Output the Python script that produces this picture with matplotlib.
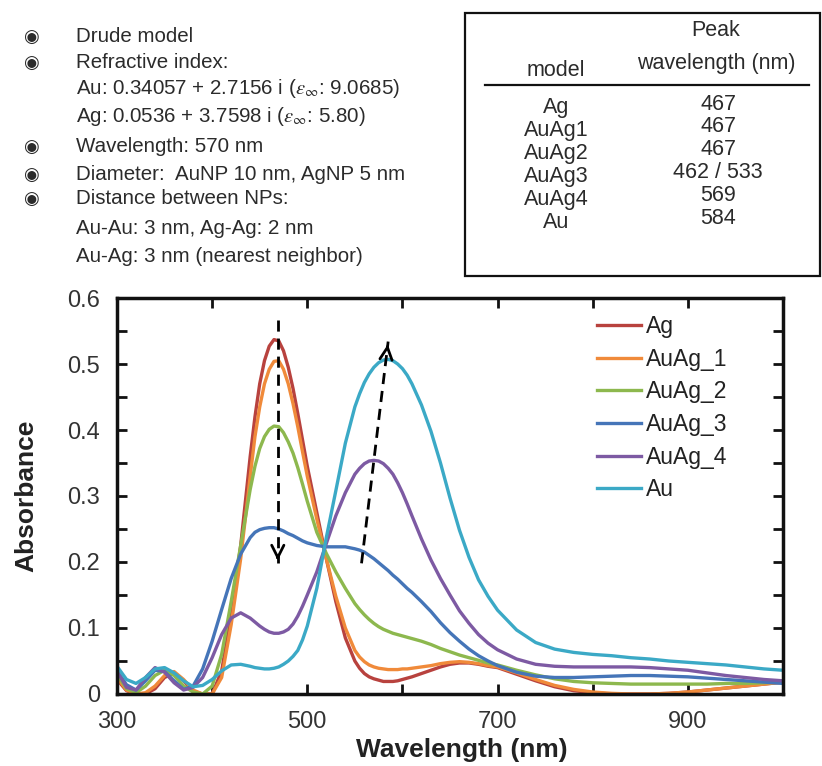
import matplotlib
matplotlib.use("Agg")
from matplotlib import pyplot as plt
from matplotlib.patches import Rectangle
from matplotlib.lines import Line2D
from matplotlib.ticker import MultipleLocator

plt.rcParams['font.family'] = ['Liberation Sans', 'DejaVu Sans']
plt.rcParams['mathtext.fontset'] = 'stix'

# wavelength grid (nm), finer around the peaks
wl = (list(range(300, 441, 10)) + list(range(445, 501, 5)) + list(range(510, 551, 10))
      + list(range(555, 611, 5)) + list(range(620, 701, 10)) + list(range(720, 1001, 20)))

ag = [0.022, 0.005, 0.0, 0.0, 0.008, 0.025, 0.032, 0.02, 0.004, 0.0, 0.0, 0.035, 0.12, 0.225, 0.36,
      0.42, 0.47, 0.505, 0.527, 0.537, 0.535, 0.52, 0.495, 0.463, 0.425, 0.385, 0.345,
      0.275, 0.205, 0.14, 0.085, 0.05,
      0.039, 0.031, 0.026, 0.023, 0.021, 0.019, 0.019, 0.019, 0.02, 0.022, 0.024, 0.026,
      0.031, 0.036, 0.041, 0.045, 0.047, 0.047, 0.045, 0.042, 0.04,
      0.03, 0.02, 0.011, 0.005, 0.002, 0.0, 0.0, 0.0, 0.001, 0.003, 0.006, 0.009, 0.012, 0.015, 0.018]
auag1 = [0.025, 0.006, 0.0, 0.002, 0.012, 0.028, 0.034, 0.022, 0.006, 0.0, 0.0, 0.025, 0.105, 0.205, 0.33,
         0.39, 0.435, 0.47, 0.492, 0.504, 0.505, 0.492, 0.47, 0.44, 0.405, 0.367, 0.33,
         0.265, 0.205, 0.148, 0.1, 0.066,
         0.056, 0.049, 0.044, 0.041, 0.039, 0.038, 0.037, 0.037, 0.037, 0.038, 0.038, 0.039,
         0.041, 0.043, 0.046, 0.048, 0.049, 0.048, 0.046, 0.043, 0.041,
         0.032, 0.022, 0.013, 0.007, 0.003, 0.001, 0.0, 0.0, 0.001, 0.003, 0.006, 0.009, 0.012, 0.015, 0.018]
auag2 = [0.03, 0.008, 0.002, 0.012, 0.028, 0.036, 0.028, 0.012, 0.003, 0.0, 0.012, 0.06, 0.14, 0.225, 0.31,
         0.345, 0.372, 0.39, 0.401, 0.406, 0.405, 0.396, 0.382, 0.365, 0.343, 0.318, 0.292,
         0.245, 0.213, 0.185, 0.16, 0.137,
         0.128, 0.12, 0.113, 0.107, 0.102, 0.098, 0.095, 0.092, 0.09, 0.088, 0.086, 0.084,
         0.08, 0.075, 0.069, 0.064, 0.059, 0.055, 0.051, 0.047, 0.044,
         0.036, 0.029, 0.023, 0.019, 0.017, 0.016, 0.015, 0.015, 0.015, 0.015, 0.015, 0.016, 0.016, 0.017, 0.018]
auag3 = [0.035, 0.014, 0.006, 0.02, 0.036, 0.034, 0.02, 0.007, 0.012, 0.038, 0.08, 0.128, 0.175, 0.212, 0.237,
         0.245, 0.249, 0.251, 0.252, 0.252, 0.25, 0.247, 0.243, 0.24, 0.236, 0.232, 0.229,
         0.225, 0.223, 0.223, 0.223, 0.22,
         0.218, 0.215, 0.21, 0.205, 0.199, 0.193, 0.187, 0.18, 0.174, 0.167, 0.16, 0.154,
         0.14, 0.125, 0.108, 0.093, 0.08, 0.068, 0.058, 0.05, 0.043,
         0.033, 0.027, 0.025, 0.025, 0.026, 0.027, 0.028, 0.028, 0.027, 0.026, 0.024, 0.022, 0.02, 0.018, 0.016]
auag4 = [0.035, 0.01, 0.006, 0.025, 0.04, 0.033, 0.017, 0.006, 0.01, 0.025, 0.055, 0.09, 0.115, 0.123, 0.115,
         0.109, 0.103, 0.098, 0.094, 0.092, 0.092, 0.094, 0.098, 0.106, 0.118, 0.133, 0.15,
         0.185, 0.228, 0.27, 0.305, 0.333,
         0.342, 0.349, 0.353, 0.354, 0.353, 0.349, 0.342, 0.333, 0.32, 0.305, 0.288, 0.27,
         0.235, 0.203, 0.175, 0.15, 0.126, 0.107, 0.09, 0.077, 0.067,
         0.053, 0.045, 0.042, 0.041, 0.041, 0.041, 0.041, 0.04, 0.038, 0.036, 0.032, 0.028, 0.025, 0.022, 0.02]
au = [0.042, 0.022, 0.016, 0.025, 0.038, 0.04, 0.032, 0.02, 0.011, 0.013, 0.022, 0.035, 0.044, 0.045, 0.042,
      0.04, 0.039, 0.038, 0.038, 0.039, 0.041, 0.045, 0.05, 0.057, 0.066, 0.082, 0.103,
      0.16, 0.237, 0.308, 0.38, 0.435,
      0.455, 0.472, 0.485, 0.495, 0.502, 0.506, 0.507, 0.505, 0.5, 0.493, 0.483, 0.47,
      0.438, 0.398, 0.35, 0.297, 0.248, 0.207, 0.173, 0.148, 0.127,
      0.097, 0.078, 0.068, 0.063, 0.06, 0.058, 0.055, 0.053, 0.05, 0.048, 0.046, 0.044, 0.041, 0.038, 0.036]

series = [ag, auag1, auag2, auag3, auag4, au]
names = ['Ag', 'AuAg_1', 'AuAg_2', 'AuAg_3', 'AuAg_4', 'Au']
colors = ['#B8423E', '#F08A3A', '#8DB84E', '#4575B8', '#7D5AA3', '#3BA9C6']

# table on top right
table_models = ['Ag', 'AuAg1', 'AuAg2', 'AuAg3', 'AuAg4', 'Au']
table_peaks = ['467', '467', '467', '462 / 533', '569', '584']

# notes on top left: (has bullet, text)
notes = [
    (True, 'Drude model'),
    (True, 'Refractive index:'),
    (False, r'Au: 0.34057 + 2.7156 i ($\varepsilon_{\infty}$: 9.0685)'),
    (False, r'Ag: 0.0536 + 3.7598 i ($\varepsilon_{\infty}$: 5.80)'),
    (True, 'Wavelength: 570 nm'),
    (True, 'Diameter:  AuNP 10 nm, AgNP 5 nm'),
    (True, 'Distance between NPs:'),
    (False, 'Au-Au: 3 nm, Ag-Ag: 2 nm'),
    (False, 'Au-Ag: 3 nm (nearest neighbor)'),
]
note_y = [37, 63, 89, 117, 147, 175, 199, 229, 257]

W, H = 822, 766
fig = plt.figure(figsize=(W / 100, H / 100), dpi=100)

def fx(px):
    return px / W

def fy(py):
    return 1 - py / H

txt = '#2b2b2b'

for (bul, s), y in zip(notes, note_y):
    if bul:
        fig.text(fx(31), fy(y), '\u25C9', family='DejaVu Sans', fontsize=13,
                 ha='center', va='center', color=txt)
    fig.text(fx(76), fy(y), s, fontsize=14.8, ha='left', va='center', color=txt)

# table box
fig.add_artist(Rectangle((fx(465), fy(276)), fx(820) - fx(465), fy(13) - fy(276),
                         transform=fig.transFigure, fill=False, lw=1.6, ec='#111'))
fig.add_artist(Line2D([fx(485), fx(809)], [fy(85), fy(85)],
                      transform=fig.transFigure, lw=1.6, color='#111'))
fig.text(fx(716), fy(30), 'Peak', fontsize=15.5, ha='center', va='center', color=txt)
fig.text(fx(716), fy(64), 'wavelength (nm)', fontsize=15.5, ha='center', va='center', color=txt)
fig.text(fx(556), fy(70), 'model', fontsize=15.5, ha='center', va='center', color=txt)
for i, (m, p) in enumerate(zip(table_models, table_peaks)):
    y = 108 + i * 22.8
    fig.text(fx(556), fy(y), m, fontsize=15.5, ha='center', va='center', color=txt)
    fig.text(fx(718), fy(y - 4), p, fontsize=15.5, ha='center', va='center', color=txt)

# main plot
ax = fig.add_axes([fx(117), fy(694), fx(783) - fx(117), fy(298) - fy(694)])
for ys, n, c in zip(series, names, colors):
    ax.plot(wl, ys, color=c, lw=2.4, label=n, solid_joinstyle='round')

ax.set_xlim(300, 1000)
ax.set_ylim(0, 0.6)
ax.set_xticks(range(300, 1001, 100))
ax.set_xticklabels(['300', '', '500', '', '700', '', '900', ''])
ax.set_yticks([0, 0.1, 0.2, 0.3, 0.4, 0.5, 0.6])
ax.set_yticklabels(['0', '0.1', '0.2', '0.3', '0.4', '0.5', '0.6'])
ax.yaxis.set_minor_locator(MultipleLocator(0.05))
ax.tick_params(which='both', direction='in', top=True, right=True,
               labelsize=17, labelcolor='#333333', width=2, color='#111')
ax.tick_params(which='major', length=7, pad=12)
ax.tick_params(which='minor', length=7)
for sp in ax.spines.values():
    sp.set_linewidth(2.5)
    sp.set_color('#111')

ax.set_xlabel('Wavelength (nm)', fontsize=19, fontweight='bold', color='#222')
ax.set_ylabel('Absorbance', fontsize=19, fontweight='bold', color='#222')
ax.xaxis.set_label_coords(0.517, -0.112)
ax.yaxis.set_label_coords(-0.118, 0.5)

leg = ax.legend(loc='upper left', bbox_to_anchor=(0.72, 0.957), frameon=False,
                fontsize=16.5, handlelength=1.95, handletextpad=0.2,
                labelspacing=0.42, borderpad=0, borderaxespad=0)
for t in leg.get_texts():
    t.set_color('#222')

# dashed trend arrows
arrow_down = ((469, 0.567), (469, 0.198))
arrow_up = ((557, 0.198), (585, 0.534))
for (x0, y0), (x1, y1) in [arrow_down, arrow_up]:
    ax.plot([x0, x1], [y0, y1], color='black', lw=2, ls=(0, (4, 2.5)))
    ax.annotate('', xy=(x1, y1), xytext=(x1 - (x1 - x0) * 0.04, y1 - (y1 - y0) * 0.04),
                arrowprops=dict(arrowstyle='->', lw=2, color='black', mutation_scale=22))

fig.savefig('out.png', dpi=100)
